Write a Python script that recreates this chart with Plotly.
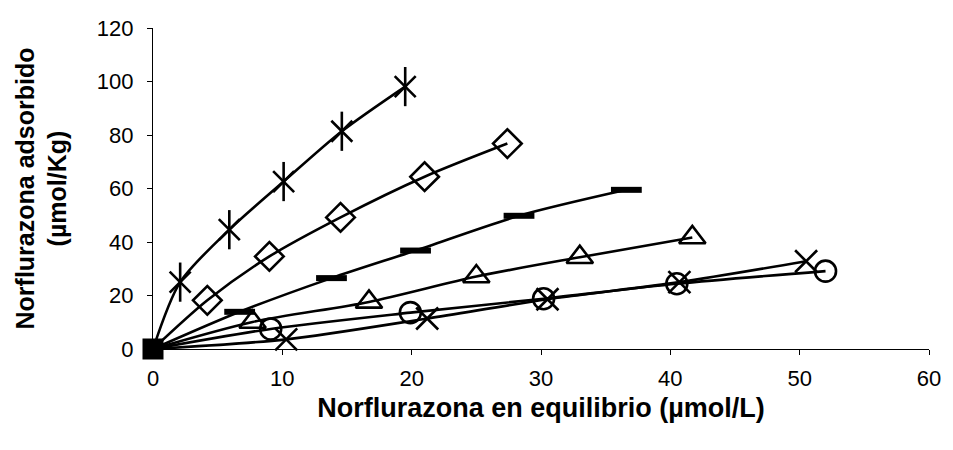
import plotly.graph_objects as go

# Equilibrium concentration (µmol/L) and adsorbed amount (µmol/Kg) per soil
star_x = [0, 2.1, 5.9, 10.1, 14.6, 19.5]
star_y = [0, 25.0, 44.6, 62.6, 81.4, 98.1]

diamond_x = [0, 4.2, 9.0, 14.5, 21.0, 27.4]
diamond_y = [0, 18.2, 34.6, 49.2, 64.4, 76.8]

dash_x = [0, 6.7, 13.8, 20.3, 28.3, 36.6]
dash_y = [0, 13.9, 26.5, 36.8, 49.8, 59.5]

tri_x = [0, 7.7, 16.7, 25.0, 33.0, 41.7]
tri_y = [0, 10.1, 17.6, 27.1, 34.3, 41.7]

circ_x = [0, 9.1, 19.9, 30.2, 40.5, 52.0]
circ_y = [0, 7.5, 13.6, 18.8, 24.4, 29.1]

cross_x = [0, 10.3, 21.2, 30.5, 40.7, 50.5]
cross_y = [0, 3.6, 11.4, 18.6, 25.0, 32.8]

x_ticks = [0, 10, 20, 30, 40, 50, 60]
y_ticks = [0, 20, 40, 60, 80, 100, 120]

INK = "black"
FONT = "Liberation Sans, Arial, sans-serif"

fig = go.Figure()


def add_series(xs, ys, symbol, size, lw=2.6):
    n = len(xs)
    # the shared origin point is drawn as a solid block
    symbols = ["square"] + [symbol] * (n - 1)
    sizes = [15] + [size] * (n - 1)
    fig.add_trace(go.Scatter(
        x=xs, y=ys, mode="lines+markers",
        line=dict(color=INK, width=2.6, shape="spline", smoothing=0.8),
        marker=dict(symbol=symbols, size=sizes, color=INK, opacity=1,
                    line=dict(color=INK, width=lw)),
        cliponaxis=False, showlegend=False,
    ))


add_series(star_x, star_y, "x-thin-open", 21)
# vertical stroke completes the six-armed asterisk
fig.add_trace(go.Scatter(
    x=star_x[1:], y=star_y[1:], mode="markers",
    marker=dict(symbol="line-ns-open", size=28, color=INK, opacity=1,
                line=dict(color=INK, width=2.6)),
    cliponaxis=False, showlegend=False,
))
add_series(diamond_x, diamond_y, "diamond-open", 22)
add_series(dash_x, dash_y, "line-ew-open", 22, lw=6)
add_series(tri_x, tri_y, "triangle-up-open", 23)
add_series(circ_x, circ_y, "circle-open", 21)
add_series(cross_x, cross_y, "x-thin-open", 22)

axis_common = dict(
    showline=True, linecolor=INK, linewidth=1.3,
    ticks="outside", ticklen=5, tickwidth=1.3, tickcolor=INK,
    showgrid=False, zeroline=False,
    tickfont=dict(family=FONT, size=22, color=INK),
)

fig.update_xaxes(
    range=[0, 60], tickvals=x_ticks, ticklabelstandoff=4,
    title=dict(text="<b>Norflurazona en equilibrio (µmol/L)</b>",
               font=dict(family=FONT, size=27, color=INK), standoff=8),
    **axis_common,
)
fig.update_yaxes(
    range=[0, 120], tickvals=y_ticks, ticklabelstandoff=9,
    title=dict(text="<b>Norflurazona adsorbido<br>(µmol/Kg)</b>",
               font=dict(family=FONT, size=25, color=INK), standoff=22),
    **axis_common,
)

fig.update_layout(
    width=953, height=450,
    margin=dict(l=153, r=17, t=28, b=101),
    paper_bgcolor="white", plot_bgcolor="white",
    font=dict(family=FONT, color=INK),
)

fig.write_html("out.html")
